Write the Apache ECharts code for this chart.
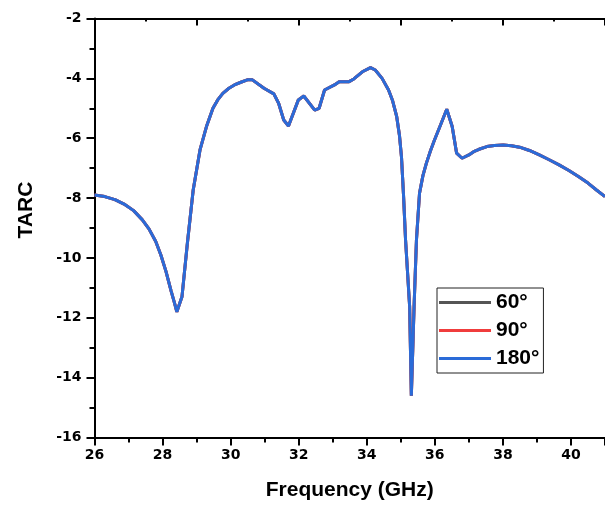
<!DOCTYPE html>
<html>
<head>
<meta charset="utf-8">
<script src="https://cdn.jsdelivr.net/npm/echarts@6/dist/echarts.min.js"></script>
<style>html,body{margin:0;padding:0;background:#fff;}#c{width:605px;height:506px;}</style>
</head>
<body>
<div id="c"></div>
<script>
var freq = [26.00,26.30,26.60,26.90,27.15,27.40,27.60,27.80,27.95,28.10,28.25,28.35,28.42,28.57,28.73,28.90,29.10,29.29,29.48,29.62,29.77,29.95,30.11,30.30,30.49,30.64,30.98,31.27,31.41,31.56,31.70,31.99,32.15,32.47,32.60,32.76,33.05,33.19,33.48,33.62,33.87,34.11,34.25,34.45,34.64,34.76,34.88,34.96,35.02,35.08,35.14,35.26,35.31,35.39,35.46,35.55,35.65,35.75,35.87,35.99,36.17,36.35,36.51,36.64,36.80,37.00,37.14,37.30,37.53,37.75,38.01,38.25,38.49,38.78,39.07,39.36,39.65,39.94,40.23,40.50,40.75,41.00];
var tarc60 = [-7.90,-7.95,-8.05,-8.22,-8.42,-8.72,-9.03,-9.45,-9.90,-10.45,-11.10,-11.50,-11.80,-11.30,-9.50,-7.73,-6.39,-5.61,-5.00,-4.72,-4.50,-4.33,-4.22,-4.13,-4.05,-4.05,-4.33,-4.52,-4.83,-5.39,-5.59,-4.72,-4.59,-5.06,-5.00,-4.39,-4.22,-4.11,-4.11,-4.02,-3.78,-3.64,-3.72,-4.00,-4.39,-4.75,-5.28,-5.90,-6.62,-7.90,-9.40,-11.63,-14.60,-11.63,-9.40,-7.84,-7.25,-6.84,-6.43,-6.06,-5.55,-5.03,-5.61,-6.50,-6.67,-6.56,-6.45,-6.37,-6.28,-6.24,-6.23,-6.25,-6.30,-6.41,-6.56,-6.72,-6.89,-7.08,-7.29,-7.50,-7.73,-7.95];
var tarc90 = [-7.90,-7.95,-8.05,-8.22,-8.42,-8.72,-9.03,-9.45,-9.90,-10.45,-11.10,-11.50,-11.80,-11.30,-9.50,-7.73,-6.39,-5.61,-5.00,-4.72,-4.50,-4.33,-4.22,-4.13,-4.05,-4.05,-4.33,-4.52,-4.83,-5.39,-5.59,-4.72,-4.59,-5.06,-5.00,-4.39,-4.22,-4.11,-4.11,-4.02,-3.78,-3.64,-3.72,-4.00,-4.39,-4.75,-5.28,-5.90,-6.62,-7.90,-9.40,-11.63,-14.60,-11.63,-9.40,-7.84,-7.25,-6.84,-6.43,-6.06,-5.55,-5.03,-5.61,-6.50,-6.67,-6.56,-6.45,-6.37,-6.28,-6.24,-6.23,-6.25,-6.30,-6.41,-6.56,-6.72,-6.89,-7.08,-7.29,-7.50,-7.73,-7.95];
var tarc180 = [-7.90,-7.95,-8.05,-8.22,-8.42,-8.72,-9.03,-9.45,-9.90,-10.45,-11.10,-11.50,-11.80,-11.30,-9.50,-7.73,-6.39,-5.61,-5.00,-4.72,-4.50,-4.33,-4.22,-4.13,-4.05,-4.05,-4.33,-4.52,-4.83,-5.39,-5.59,-4.72,-4.59,-5.06,-5.00,-4.39,-4.22,-4.11,-4.11,-4.02,-3.78,-3.64,-3.72,-4.00,-4.39,-4.75,-5.28,-5.90,-6.62,-7.90,-9.40,-11.63,-14.60,-11.63,-9.40,-7.84,-7.25,-6.84,-6.43,-6.06,-5.55,-5.03,-5.61,-6.50,-6.67,-6.56,-6.45,-6.37,-6.28,-6.24,-6.23,-6.25,-6.30,-6.41,-6.56,-6.72,-6.89,-7.08,-7.29,-7.50,-7.73,-7.95];
var seriesNames = ['60°','90°','180°'];
var seriesColors = ['#555555','#f03c3c','#2a6bd8'];

function pairs(ys){ return freq.map(function(x,i){ return [x, ys[i]]; }); }
var allData = [tarc60, tarc90, tarc180];

var chart = echarts.init(document.getElementById('c'), null, {renderer:'canvas'});
var tickFont = {fontFamily:'DejaVu Sans', fontWeight:'bold', fontSize:14, color:'#000'};
var titleFont = {fontFamily:'Liberation Sans', fontWeight:'bold', fontSize:21, color:'#000'};
chart.setOption({
  animation:false,
  backgroundColor:'#fff',
  grid:{left:94.5, top:18.5, right:-8.5, bottom:68.5, containLabel:false},
  legend:{
    data:seriesNames, orient:'vertical', left:437, top:288,
    padding:[4,4,4,2], itemGap:7, itemWidth:52, itemHeight:3, icon:'rect',
    borderColor:'#222', borderWidth:1,
    textStyle:{fontFamily:'Liberation Sans', fontWeight:'bold', fontSize:21, color:'#000', lineHeight:21}
  },
  xAxis:[{
    type:'value', min:26, max:41, interval:2, position:'bottom',
    name:'Frequency (GHz)', nameLocation:'middle', nameGap:42, nameTextStyle:titleFont,
    axisLine:{show:true, lineStyle:{color:'#000', width:2}},
    axisTick:{show:true, length:8, lineStyle:{color:'#000', width:2}},
    minorTick:{show:true, splitNumber:2, length:5, lineStyle:{color:'#000', width:2}},
    axisLabel:Object.assign({margin:11, showMaxLabel:false}, tickFont),
    splitLine:{show:false}
  },{
    type:'value', min:26, max:41, interval:3, position:'top',
    axisLine:{show:true, lineStyle:{color:'#000', width:2}},
    axisTick:{show:true, inside:true, length:7, lineStyle:{color:'#000', width:2}},
    minorTick:{show:true, splitNumber:2, length:3, lineStyle:{color:'#000', width:2}},
    axisLabel:{show:false}, splitLine:{show:false}
  }],
  yAxis:[{
    type:'value', min:-16, max:-2, interval:2,
    name:'TARC', nameLocation:'middle', nameGap:58, nameRotate:90,
    nameTextStyle:Object.assign({padding:[0,0,0,36]}, titleFont),
    axisLine:{show:true, lineStyle:{color:'#000', width:2}},
    axisTick:{show:true, length:8, lineStyle:{color:'#000', width:2}},
    minorTick:{show:true, splitNumber:2, length:5, lineStyle:{color:'#000', width:2}},
    axisLabel:Object.assign({margin:13}, tickFont),
    splitLine:{show:false}
  }],
  series: seriesNames.map(function(n,i){
    return {
      name:n, type:'line', xAxisIndex:0, yAxisIndex:0,
      data:pairs(allData[i]), showSymbol:false, symbol:'none', smooth:false,
      itemStyle:{color:seriesColors[i]},
      lineStyle:{color:seriesColors[i], width:3}, z:2+i
    };
  })
});
</script>
</body>
</html>
